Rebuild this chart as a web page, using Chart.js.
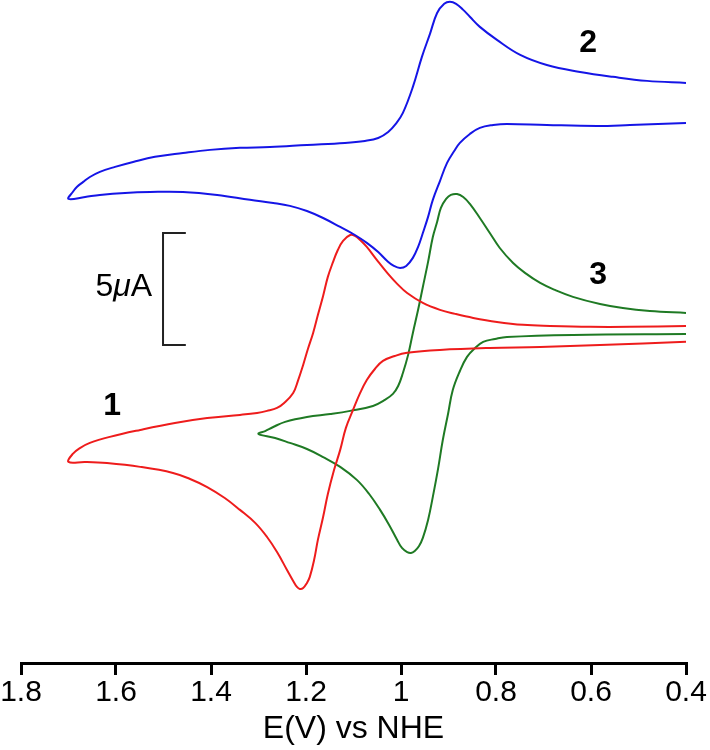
<!DOCTYPE html>
<html>
<head>
<meta charset="utf-8">
<script src="https://cdn.jsdelivr.net/npm/chart.js@4/dist/chart.umd.min.js"></script>
<style>
  html, body { margin: 0; padding: 0; background: #fff; }
  #wrap { width: 710px; height: 750px; }
</style>
</head>
<body>
<div id="wrap"><canvas id="cv" width="710" height="750"></canvas></div>
<script>
// potentials (V vs NHE) and currents (uA, each curve offset vertically)
// each loop is listed from the 0.4 V end along the upper branch, round the turning point, back along the lower branch
const blueE = [0.40, 0.482, 0.554, 0.623, 0.693, 0.749, 0.798, 0.834, 0.855, 0.869, 0.884, 0.897, 0.909, 0.924, 0.939, 0.956, 0.975, 0.996, 1.011, 1.027, 1.048, 1.076, 1.118, 1.198, 1.276, 1.339, 1.402, 1.459, 1.518, 1.564, 1.602, 1.634, 1.655, 1.669, 1.682, 1.691, 1.70,
  1.665, 1.634, 1.581, 1.528, 1.459, 1.387, 1.318, 1.269, 1.234, 1.198, 1.164, 1.128, 1.097, 1.072, 1.048, 1.029, 1.015, 1.002, 0.989, 0.975, 0.964, 0.954, 0.943, 0.933, 0.918, 0.903, 0.888, 0.876, 0.855, 0.834, 0.806, 0.777, 0.693, 0.587, 0.518, 0.40];
const blueI = [25.76, 25.85, 26.03, 26.25, 26.56, 27.01, 27.68, 28.26, 28.71, 29.02, 29.29, 29.38, 29.29, 28.88, 27.95, 26.92, 25.58, 24.42, 23.93, 23.57, 23.30, 23.17, 23.08, 22.99, 22.90, 22.86, 22.77, 22.63, 22.46, 22.23, 22.01, 21.79, 21.56, 21.34, 21.12, 20.89, 20.58,
  20.67, 20.76, 20.85, 20.89, 20.89, 20.76, 20.54, 20.40, 20.27, 20.04, 19.73, 19.33, 18.97, 18.62, 18.21, 17.81, 17.59, 17.50, 17.59, 17.95, 18.44, 19.06, 19.78, 20.54, 21.38, 22.19, 22.72, 23.08, 23.48, 23.75, 23.88, 23.93, 23.88, 23.84, 23.88, 23.97];

const redE = [0.40, 0.518, 0.602, 0.686, 0.743, 0.798, 0.848, 0.886, 0.918, 0.954, 0.987, 1.008, 1.029, 1.051, 1.072, 1.086, 1.097, 1.107, 1.122, 1.133, 1.143, 1.154, 1.164, 1.175, 1.185, 1.196, 1.206, 1.217, 1.227, 1.246, 1.261, 1.282, 1.303, 1.339, 1.408, 1.476, 1.549, 1.613, 1.655, 1.676, 1.691, 1.70,
  1.665, 1.619, 1.549, 1.48, 1.444, 1.408, 1.371, 1.339, 1.307, 1.282, 1.261, 1.24, 1.227, 1.219, 1.213, 1.206, 1.198, 1.192, 1.183, 1.175, 1.164, 1.154, 1.141, 1.128, 1.116, 1.101, 1.086, 1.072, 1.055, 1.038, 1.013, 0.987, 0.918, 0.813, 0.707, 0.581, 0.40];
const redI = [14.91, 14.87, 14.87, 14.91, 14.96, 15.09, 15.27, 15.45, 15.63, 15.94, 16.38, 16.79, 17.28, 17.86, 18.44, 18.75, 18.93, 18.97, 18.71, 18.30, 17.77, 17.10, 16.25, 15.40, 14.60, 13.88, 13.17, 12.46, 11.92, 11.47, 11.25, 11.12, 11.03, 10.94, 10.80, 10.58, 10.27, 9.96, 9.69, 9.46, 9.20, 8.84,
  8.84, 8.79, 8.62, 8.35, 8.08, 7.72, 7.23, 6.70, 6.12, 5.49, 4.82, 4.02, 3.53, 3.26, 3.17, 3.21, 3.44, 3.71, 4.46, 5.36, 6.38, 7.41, 8.48, 9.38, 10.36, 11.16, 11.92, 12.50, 12.99, 13.35, 13.57, 13.71, 13.84, 13.93, 13.97, 14.06, 14.20];

const greenE = [0.40, 0.476, 0.533, 0.581, 0.638, 0.676, 0.707, 0.739, 0.764, 0.792, 0.813, 0.834, 0.855, 0.869, 0.882, 0.895, 0.905, 0.916, 0.924, 0.933, 0.943, 0.954, 0.964, 0.975, 0.985, 0.996, 1.006, 1.017, 1.034, 1.059, 1.107, 1.149, 1.198, 1.244, 1.269, 1.286, 1.30,
  1.265, 1.234, 1.198, 1.164, 1.128, 1.093, 1.067, 1.044, 1.025, 1.008, 0.998, 0.987, 0.979, 0.971, 0.962, 0.954, 0.943, 0.933, 0.922, 0.912, 0.901, 0.891, 0.876, 0.861, 0.844, 0.827, 0.802, 0.777, 0.638, 0.40];
const greenI = [15.49, 15.58, 15.71, 15.89, 16.21, 16.52, 16.83, 17.28, 17.72, 18.39, 19.06, 19.73, 20.36, 20.67, 20.80, 20.76, 20.58, 20.18, 19.55, 18.88, 17.77, 16.65, 15.63, 14.60, 13.62, 12.81, 12.23, 11.88, 11.61, 11.34, 11.12, 10.98, 10.85, 10.63, 10.40, 10.22, 10.09,
  9.91, 9.69, 9.42, 9.06, 8.62, 8.04, 7.41, 6.70, 6.03, 5.36, 5.00, 4.82, 4.78, 4.87, 5.09, 5.45, 6.25, 7.28, 8.53, 9.82, 10.98, 12.05, 12.90, 13.53, 13.93, 14.20, 14.33, 14.42, 14.51, 14.55];

// 5 uA scale bar
const scaleBarE = [1.453, 1.501, 1.501, 1.453];
const scaleBarI = [19.06, 19.06, 14.06, 14.06];

const xTicks = [1.8, 1.6, 1.4, 1.2, 1.0, 0.8, 0.6, 0.4];
const xTickLabels = ['1.8', '1.6', '1.4', '1.2', '1', '0.8', '0.6', '0.4'];

const curveLabels = ['1', '2', '3'];
const curveLabelE = [1.608, 0.606, 0.585];
const curveLabelI = [11.34, 27.54, 17.19];

const FONT = "'Liberation Sans', Arial, sans-serif";

function toPoints(xs, ys) {
  return xs.map((x, i) => ({ x: x, y: ys[i] }));
}

function curve(xs, ys, color) {
  return {
    data: toPoints(xs, ys),
    showLine: true,
    borderColor: color,
    borderWidth: 2,
    borderJoinStyle: 'round',
    pointRadius: 0,
    tension: 0.4,
    fill: false,
    clip: false
  };
}

const annotations = {
  id: 'annotations',
  afterDatasetsDraw(chart) {
    const ctx = chart.ctx;
    const xs = chart.scales.x, ys = chart.scales.y;
    ctx.save();
    ctx.fillStyle = '#000';
    ctx.textBaseline = 'middle';
    ctx.textAlign = 'center';
    ctx.font = 'bold 32px ' + FONT;
    curveLabels.forEach((t, i) => {
      ctx.fillText(t, xs.getPixelForValue(curveLabelE[i]), ys.getPixelForValue(curveLabelI[i]));
    });

    // "5 μA" next to the bar, μ in italics
    const right = xs.getPixelForValue(1.524);
    const cy = ys.getPixelForValue(16.65);
    const parts = [['5', 'normal'], ['\u03bc', 'italic'], ['A', 'normal']];
    const widths = parts.map(p => { ctx.font = p[1] + ' 32px ' + FONT; return ctx.measureText(p[0]).width; });
    let x = right - widths.reduce((a, b) => a + b, 0);
    ctx.textAlign = 'left';
    parts.forEach((p, i) => {
      ctx.font = p[1] + ' 32px ' + FONT;
      ctx.fillText(p[0], x, cy);
      x += widths[i];
    });
    ctx.restore();
  }
};

new Chart(document.getElementById('cv'), {
  type: 'scatter',
  data: {
    datasets: [
      curve(blueE, blueI, '#1515e6'),
      curve(redE, redI, '#ee1c1c'),
      curve(greenE, greenI, '#1f7a24'),
      {
        data: toPoints(scaleBarE, scaleBarI),
        showLine: true,
        borderColor: '#222',
        borderWidth: 2,
        pointRadius: 0,
        tension: 0,
        clip: false
      }
    ]
  },
  options: {
    responsive: false,
    animation: false,
    layout: { padding: { left: 21, right: 24, top: 0, bottom: 0 } },
    plugins: {
      legend: { display: false },
      tooltip: { enabled: false }
    },
    scales: {
      x: {
        type: 'linear',
        reverse: true,
        min: 0.4,
        max: 1.8,
        afterFit(axis) { axis.height = 87; },
        border: { display: true, color: '#000', width: 3 },
        grid: { drawOnChartArea: false, drawTicks: true, tickLength: 12, color: '#000', lineWidth: 3 },
        afterBuildTicks(axis) {
          axis.ticks = xTicks.map(v => ({ value: v }));
        },
        ticks: {
          autoSkip: false,
          maxRotation: 0,
          padding: 0,
          color: '#000',
          font: { family: FONT, size: 30 },
          callback(v) {
            const i = xTicks.findIndex(t => Math.abs(t - v) < 1e-6);
            return i >= 0 ? xTickLabels[i] : '';
          }
        },
        title: {
          display: true,
          text: 'E(V) vs NHE',
          color: '#000',
          padding: { top: 0, bottom: 2 },
          font: { family: FONT, size: 32 }
        }
      },
      y: {
        display: false,
        min: -0.134,
        max: 29.46
      }
    }
  },
  plugins: [annotations]
});
</script>
</body>
</html>
